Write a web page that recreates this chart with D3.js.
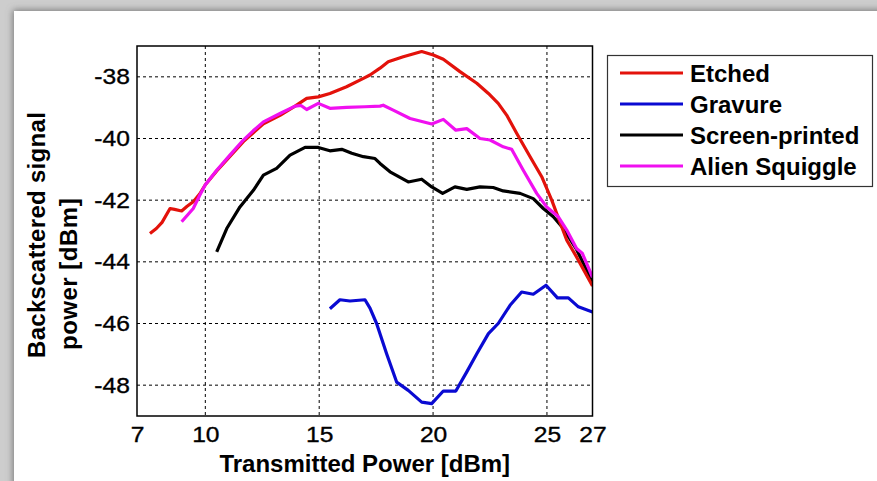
<!DOCTYPE html>
<html>
<head>
<meta charset="utf-8">
<script src="https://cdn.jsdelivr.net/npm/d3@7"></script>
<style>
  html, body { margin: 0; padding: 0; background: #cfcfcf; }
  svg { display: block; }
  text { font-family: Arial, "Liberation Sans", sans-serif; fill: #000; }
</style>
</head>
<body>
<svg id="chart" width="877" height="481"></svg>
<script>
// Transmitted power (dBm) vs backscattered signal power (dBm) per tag type
const seriesNames = ["Etched", "Gravure", "Screen-printed", "Alien Squiggle"];
const seriesColors = ["#e3120b", "#0a0ad2", "#000000", "#f010f0"];

const etchedX = [7.57, 7.85, 8.1, 8.45, 8.65, 8.96, 9.2, 9.47, 9.75, 10.0, 10.5, 11.08, 11.67, 12.2, 12.55, 13.28, 13.94, 14.45, 14.96, 15.47, 16.2, 16.94, 17.23, 17.67, 18.03, 18.69, 19.5, 20.01, 20.45, 21.18, 21.92, 22.43, 22.86, 23.23, 23.67, 24.26, 24.77, 25.21, 25.65, 25.87, 26.3, 27.0];
const etchedY = [-43.08, -42.92, -42.72, -42.27, -42.3, -42.35, -42.2, -42.05, -41.8, -41.5, -41.05, -40.58, -40.1, -39.75, -39.52, -39.25, -38.95, -38.7, -38.65, -38.54, -38.32, -38.05, -37.94, -37.72, -37.51, -37.35, -37.18, -37.29, -37.43, -37.83, -38.21, -38.54, -38.86, -39.24, -39.83, -40.59, -41.24, -42.0, -42.87, -43.3, -43.84, -44.78];

const gravureX = [15.47, 15.91, 16.35, 17.01, 17.23, 17.52, 17.96, 18.4, 18.91, 19.5, 19.94, 20.45, 21.0, 21.48, 21.92, 22.43, 22.86, 23.38, 23.89, 24.4, 24.96, 25.46, 25.94, 26.38, 27.0];
const gravureY = [-45.52, -45.23, -45.27, -45.23, -45.5, -46.0, -46.98, -47.9, -48.17, -48.55, -48.6, -48.19, -48.19, -47.57, -46.98, -46.33, -46.0, -45.41, -44.98, -45.05, -44.76, -45.17, -45.17, -45.46, -45.63];

const screenX = [10.5, 10.94, 11.52, 12.11, 12.55, 13.13, 13.72, 14.38, 14.96, 15.47, 15.99, 16.43, 16.94, 17.45, 17.67, 18.11, 18.91, 19.5, 19.94, 20.42, 20.96, 21.48, 22.06, 22.64, 23.08, 23.82, 24.4, 24.84, 25.28, 25.72, 26.3, 27.0];
const screenY = [-43.68, -42.92, -42.22, -41.68, -41.19, -40.97, -40.54, -40.29, -40.29, -40.4, -40.35, -40.48, -40.59, -40.65, -40.81, -41.08, -41.41, -41.32, -41.57, -41.78, -41.57, -41.65, -41.57, -41.59, -41.7, -41.78, -41.95, -42.27, -42.54, -42.92, -43.6, -44.65];

const alienX = [8.96, 9.47, 9.75, 10.0, 10.5, 11.08, 11.67, 12.1, 12.55, 13.28, 13.94, 14.2, 14.45, 14.96, 15.47, 16.2, 17.0, 17.67, 17.81, 18.25, 18.99, 19.94, 20.45, 21.0, 21.48, 22.06, 22.5, 23.08, 23.45, 23.96, 24.55, 24.99, 25.5, 25.87, 26.3, 26.55, 27.0];
const alienY = [-42.7, -42.27, -41.85, -41.5, -41.03, -40.54, -40.05, -39.75, -39.46, -39.19, -38.95, -38.93, -39.06, -38.86, -39.02, -38.99, -38.97, -38.95, -38.92, -39.08, -39.35, -39.53, -39.38, -39.73, -39.68, -40.0, -40.05, -40.27, -40.35, -41.03, -41.78, -42.22, -42.54, -42.97, -43.57, -43.72, -44.5];

const xTicks = [7, 10, 15, 20, 25, 27];
const yTicks = [-48, -46, -44, -42, -40, -38];
const xTitle = "Transmitted Power [dBm]";
const yTitleLines = ["Backscattered signal", "power [dBm]"];

const seriesX = [etchedX, gravureX, screenX, alienX];
const seriesY = [etchedY, gravureY, screenY, alienY];

const W = 877, H = 481;
const plot = { left: 137, right: 592.5, top: 46, bottom: 416 };

const svg = d3.select("#chart");

// Framed white panel with a soft shadow on its outer edge
const defs = svg.append("defs");
const sh = defs.append("filter").attr("id", "panelShadow")
  .attr("x", "-5%").attr("y", "-5%").attr("width", "110%").attr("height", "110%");
sh.append("feDropShadow").attr("dx", -1).attr("dy", -1)
  .attr("stdDeviation", 3.5).attr("flood-color", "#6e6e6e").attr("flood-opacity", 0.9);

svg.append("rect").attr("width", W).attr("height", H).attr("fill", "#cdcdcd");
svg.append("rect").attr("x", 14).attr("y", 11).attr("width", W).attr("height", H)
  .attr("fill", "#ffffff").attr("filter", "url(#panelShadow)");

const x = d3.scaleLinear().domain([7, 27]).range([plot.left, plot.right]);
const y = d3.scaleLinear().domain([-49, -37]).range([plot.bottom, plot.top]);

// Dashed grid
const grid = svg.append("g");
grid.selectAll("line.gx").data(xTicks.filter(t => t > 7 && t < 27)).join("line")
  .attr("x1", d => x(d)).attr("x2", d => x(d))
  .attr("y1", plot.top).attr("y2", plot.bottom)
  .attr("stroke", "#000").attr("stroke-width", 1).attr("stroke-dasharray", "3,3");
grid.selectAll("line.gy").data(yTicks).join("line")
  .attr("x1", plot.left).attr("x2", plot.right)
  .attr("y1", d => y(d)).attr("y2", d => y(d))
  .attr("stroke", "#000").attr("stroke-width", 1).attr("stroke-dasharray", "3,3");

// Axes (labels only; the frame is drawn separately)
const xAxis = d3.axisBottom(x).tickValues(xTicks).tickSize(0).tickPadding(10).tickFormat(d3.format("d"));
const yAxis = d3.axisLeft(y).tickValues(yTicks).tickSize(0).tickPadding(7).tickFormat(d => d3.format("d")(d).replace("−", "-"));

const gx = svg.append("g").attr("transform", `translate(0,${plot.bottom})`).call(xAxis);
gx.select(".domain").remove();
gx.selectAll("text").attr("font-size", 22).attr("font-family", "Arial, 'Liberation Sans', sans-serif")
  .attr("dy", "0.71em").attr("fill", "#000")
  .attr("stroke", "#000").attr("stroke-width", 0.35)
  .attr("transform", "scale(1.12,1)");

const gy = svg.append("g").attr("transform", `translate(${plot.left},0)`).call(yAxis);
gy.select(".domain").remove();
gy.selectAll("text").attr("font-size", 22).attr("font-family", "Arial, 'Liberation Sans', sans-serif")
  .attr("fill", "#000").attr("x", -6.3)
  .attr("stroke", "#000").attr("stroke-width", 0.35)
  .attr("transform", "scale(1.12,1)");

// Series lines
const line = d3.line().x(d => x(d[0])).y(d => y(d[1]));
const clip = defs.append("clipPath").attr("id", "plotClip");
clip.append("rect").attr("x", plot.left).attr("y", plot.top)
  .attr("width", plot.right - plot.left).attr("height", plot.bottom - plot.top);

const gLines = svg.append("g").attr("clip-path", "url(#plotClip)");
[2, 1, 0, 3].forEach(i => {
  const pts = seriesX[i].map((v, k) => [v, seriesY[i][k]]);
  gLines.append("path").datum(pts)
    .attr("d", line)
    .attr("fill", "none")
    .attr("stroke", seriesColors[i])
    .attr("stroke-width", 3.2)
    .attr("stroke-linejoin", "round");
});

// Plot frame
svg.append("rect").attr("x", plot.left).attr("y", plot.top)
  .attr("width", plot.right - plot.left).attr("height", plot.bottom - plot.top)
  .attr("fill", "none").attr("stroke", "#000").attr("stroke-width", 1.5);

// Axis titles
svg.append("text").attr("x", (plot.left + plot.right) / 2).attr("y", 472)
  .attr("text-anchor", "middle").attr("font-size", 24).attr("font-weight", "bold")
  .text(xTitle);

const yt = svg.append("g");
yt.append("text").attr("transform", "translate(45,358) rotate(-90)")
  .attr("font-size", 24).attr("font-weight", "bold").attr("letter-spacing", 0.3)
  .text(yTitleLines[0]);
yt.append("text").attr("transform", "translate(77,350) rotate(-90)")
  .attr("font-size", 24).attr("font-weight", "bold").attr("letter-spacing", 0.5)
  .text(yTitleLines[1]);

// Legend
const lg = svg.append("g");
lg.append("rect").attr("x", 607.5).attr("y", 55.5).attr("width", 265).attr("height", 131)
  .attr("fill", "#fff").attr("stroke", "#333").attr("stroke-width", 1.2);
const rowY = d3.scalePoint().domain(seriesNames).range([73, 166]);
seriesNames.forEach((name, i) => {
  lg.append("line").attr("x1", 620).attr("x2", 683)
    .attr("y1", rowY(name)).attr("y2", rowY(name))
    .attr("stroke", seriesColors[i]).attr("stroke-width", 3);
  lg.append("text").attr("x", 690).attr("y", rowY(name)).attr("dy", "0.36em")
    .attr("font-size", 24).attr("font-weight", "bold").text(name);
});
</script>
</body>
</html>
